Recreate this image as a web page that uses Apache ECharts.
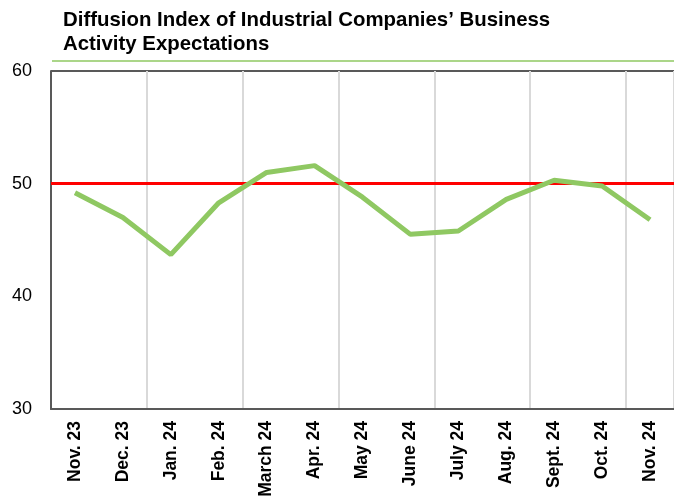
<!DOCTYPE html>
<html><head><meta charset="utf-8">
<script src="https://cdn.jsdelivr.net/npm/echarts@6/dist/echarts.min.js"></script>
<style>html,body{margin:0;padding:0;background:#fff}#c{width:674px;height:503px}</style>
</head><body><div id="c"></div>
<script>
var categories = ['Nov. 23','Dec. 23','Jan. 24','Feb. 24','March 24','Apr. 24','May 24','June 24','July 24','Aug. 24','Sept. 24','Oct. 24','Nov. 24'];
var values = [49.2, 47.0, 43.7, 48.3, 51.0, 51.6, 48.8, 45.5, 45.8, 48.6, 50.3, 49.8, 46.8];
var threshold = 50;
var yTicks = [30, 40, 50, 60];

var chart = echarts.init(document.getElementById('c'));
chart.setOption({
  animation: false,
  title: {
    text: 'Diffusion Index of Industrial Companies\u2019 Business\nActivity Expectations',
    left: 58, top: 3,
    textStyle: {fontFamily: 'Liberation Sans, Arial', fontSize: 20.4, fontWeight: 'bold', color: '#000', lineHeight: 24}
  },
  graphic: [{
    type: 'line', shape: {x1: 52, y1: 61, x2: 674, y2: 61},
    style: {stroke: '#8fc862', lineWidth: 1.5}
  }],
  grid: {left: 51, right: -3, top: 71, bottom: 94},
  xAxis: {
    type: 'category', data: categories, boundaryGap: true,
    axisLine: {lineStyle: {color: '#595959', width: 2}},
    axisTick: {show: false},
    axisLabel: {rotate: 90, interval: 0, margin: 12, fontFamily: 'Liberation Sans, Arial', fontSize: 17.5, fontWeight: 'bold', color: '#000'},
    splitLine: {show: true, interval: 1, lineStyle: {color: '#d9d9d9', width: 2}}
  },
  yAxis: {
    type: 'value', min: yTicks[0], max: yTicks[yTicks.length-1], interval: 10,
    axisLine: {show: true, lineStyle: {color: '#595959', width: 2}},
    axisTick: {show: false},
    axisLabel: {margin: 19, fontFamily: 'Liberation Sans, Arial', fontSize: 18, color: '#000'},
    splitLine: {show: true, lineStyle: {color: ['rgba(0,0,0,0)', 'rgba(0,0,0,0)', 'rgba(0,0,0,0)', '#595959'], width: 2}}
  },
  series: [{
    type: 'line', data: values, symbol: 'none',
    lineStyle: {color: '#8fc862', width: 5},
    z: 3,
    markLine: {
      silent: true, symbol: 'none', label: {show: false},
      lineStyle: {color: '#ff0000', width: 3, type: 'solid'},
      data: [{yAxis: threshold}],
      z: 2
    }
  }]
});
</script></body></html>
